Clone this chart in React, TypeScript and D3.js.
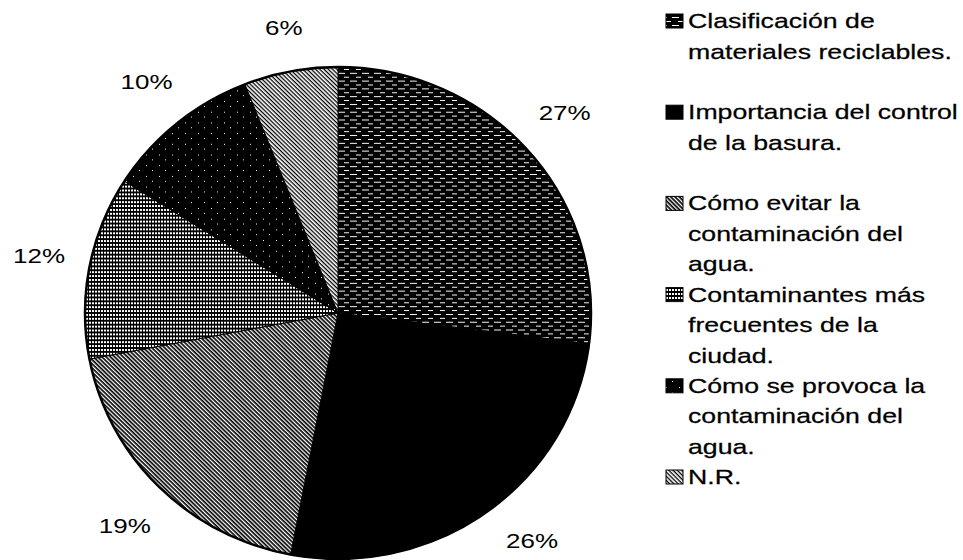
import React from "react";
import * as d3 from "d3";

// ---- data ----
const categories = [
  "Clasificación de materiales reciclables.",
  "Importancia del control de la basura.",
  "Cómo evitar la contaminación del agua.",
  "Contaminantes más frecuentes de la ciudad.",
  "Cómo se provoca la contaminación del agua.",
  "N.R.",
];
const legendLines = [
  ["Clasificación de", "materiales reciclables."],
  ["Importancia del control", "de la basura."],
  ["Cómo evitar la", "contaminación del", "agua."],
  ["Contaminantes más", "frecuentes de la", "ciudad."],
  ["Cómo se provoca la", "contaminación del", "agua."],
  ["N.R."],
];
const values = [27, 26, 19, 12, 10, 6];
const valueLabels = ["27%", "26%", "19%", "12%", "10%", "6%"];
const patternIds = ["pHoriz", "pSolid", "pDiag", "pGrid", "pSpeck", "pDiagLight"];

export default function App() {
  const W = 963;
  const H = 560;
  const cx = 338;
  const cy = 313;
  const rx = 253;
  const ry = 246;

  const pieData = d3
    .pie<number>()
    .sort(null)
    .value((d) => d)(values);
  const arc = d3
    .arc<d3.PieArcDatum<number>>()
    .innerRadius(0)
    .outerRadius(rx);

  const labelFont = 20;
  const labelScaleX = 1.3;
  const labelDist = 280;
  const maxLabelY = H - 19;

  const legendX = 688;
  const iconX = 666;
  const firstBaseline = 28;
  const slot = 91.2;
  const lineH = 30.5;
  const legendFont = 21;
  const legendScaleX = 1.27;

  return (
    <svg
      width={W}
      height={H}
      viewBox={`0 0 ${W} ${H}`}
      style={{ position: "absolute", left: 0, top: 0, background: "#fff" }}
      fontFamily="'Liberation Sans', Arial, sans-serif"
    >
      <defs>
        <pattern id="pHoriz" width={12} height={8} patternUnits="userSpaceOnUse">
          <rect width={12} height={8} fill="#000" />
          <rect x={0} y={1} width={7} height={1} fill="#fff" />
          <rect x={6} y={5} width={5} height={1} fill="#fff" />
        </pattern>
        <pattern id="pSolid" width={4} height={4} patternUnits="userSpaceOnUse">
          <rect width={4} height={4} fill="#000" />
        </pattern>
        <pattern
          id="pDiag"
          width={3}
          height={3}
          patternUnits="userSpaceOnUse"
          patternTransform="rotate(-45)"
        >
          <rect width={3} height={3} fill="#000" />
          <rect width={1.3} height={3} fill="#fff" />
        </pattern>
        <pattern id="pGrid" width={3} height={4} patternUnits="userSpaceOnUse">
          <rect width={3} height={4} fill="#000" />
          <rect x={0} y={1} width={2} height={2} fill="#fff" />
        </pattern>
        <pattern id="pSpeck" width={13} height={11} patternUnits="userSpaceOnUse">
          <rect width={13} height={11} fill="#000" />
          <rect x={3} y={2} width={1} height={1} fill="#fff" />
          <rect x={9} y={7} width={1} height={1} fill="#fff" />
        </pattern>
        <pattern
          id="pDiagLight"
          width={3}
          height={3}
          patternUnits="userSpaceOnUse"
          patternTransform="rotate(-45)"
        >
          <rect width={3} height={3} fill="#000" />
          <rect width={1.7} height={3} fill="#fff" />
        </pattern>
      </defs>

      <g transform={`translate(${cx},${cy}) scale(1,${ry / rx})`}>
        {pieData.map((d, i) => (
          <path
            key={categories[i]}
            d={arc(d) || ""}
            fill={`url(#${patternIds[i]})`}
            stroke="#000"
            strokeWidth={1}
          />
        ))}
        <ellipse cx={0} cy={0} rx={rx} ry={rx} fill="none" stroke="#000" strokeWidth={2.5} />
      </g>

      {pieData.map((d, i) => {
        const a = (d.startAngle + d.endAngle) / 2;
        const ux = Math.sin(a);
        const uy = -Math.cos(a);
        const w = valueLabels[i].length * 0.6 * labelFont * labelScaleX;
        const h = 14;
        const ext = (w / 2) * Math.abs(ux) + (h / 2) * Math.abs(uy);
        const L = labelDist + ext;
        let x = cx + ux * L;
        let y = cy + uy * L;
        if (y > maxLabelY) {
          // slide along the label circle so the label stays inside the chart
          y = maxLabelY;
          const dy = y - cy;
          const dx = Math.sqrt(Math.max(0, L * L - dy * dy));
          x = cx + Math.sign(ux) * dx;
        }
        return (
          <text
            key={`lbl-${i}`}
            transform={`translate(${x},${y}) scale(${labelScaleX},1)`}
            textAnchor="middle"
            dy="0.35em"
            fontSize={labelFont}
            fill="#000"
          >
            {valueLabels[i]}
          </text>
        );
      })}

      {legendLines.map((lines, i) => {
        const base = firstBaseline + i * slot;
        return (
          <g key={`leg-${i}`}>
            <rect
              x={iconX}
              y={base - 14}
              width={17}
              height={14}
              fill={`url(#${patternIds[i]})`}
              stroke="#000"
              strokeWidth={1}
            />
            {lines.map((ln, j) => (
              <text
                key={j}
                transform={`translate(${legendX},${base + j * lineH}) scale(${legendScaleX},1)`}
                fontSize={legendFont}
                fill="#000"
                stroke="#000"
                strokeWidth={0.25}
              >
                {ln}
              </text>
            ))}
          </g>
        );
      })}
    </svg>
  );
}
